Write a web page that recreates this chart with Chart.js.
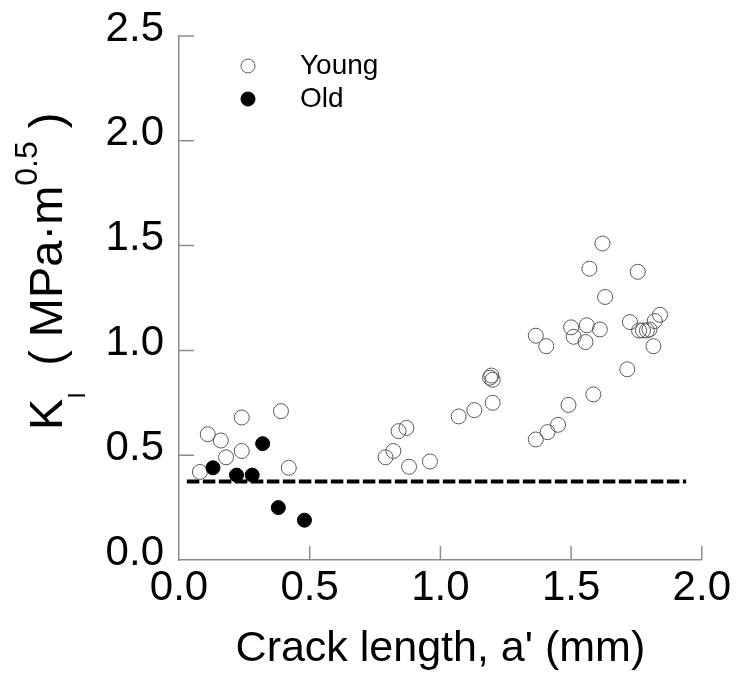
<!DOCTYPE html>
<html>
<head>
<meta charset="utf-8">
<script src="https://cdn.jsdelivr.net/npm/chart.js@4.4.0/dist/chart.umd.min.js"></script>
<style>
	html, body { margin: 0; padding: 0; background: #fff; }
</style>
</head>
<body>
<canvas id="graficoK" width="738" height="675"></canvas>
<script>
// valores
youngX = [0.08, 0.11, 0.16, 0.18, 0.24, 0.24, 0.39, 0.42,
	0.79, 0.82, 0.84, 0.87, 0.88, 0.96, 1.07, 1.13, 1.20, 1.19, 1.195, 1.20,
	1.365, 1.41, 1.45, 1.49, 1.585, 1.715,
	1.365, 1.405, 1.50, 1.51, 1.56, 1.555, 1.61, 1.57, 1.62, 1.63, 1.755,
	1.725, 1.76, 1.775, 1.79, 1.80, 1.82, 1.84, 1.815]
youngY = [0.42, 0.60, 0.57, 0.49, 0.52, 0.68, 0.71, 0.44,
	0.49, 0.52, 0.615, 0.63, 0.445, 0.47, 0.685, 0.715, 0.75, 0.87, 0.88, 0.86,
	0.575, 0.61, 0.645, 0.74, 0.79, 0.91,
	1.07, 1.02, 1.11, 1.065, 1.12, 1.04, 1.10, 1.39, 1.51, 1.255, 1.375,
	1.135, 1.095, 1.095, 1.095, 1.10, 1.14, 1.17, 1.02]
oldX = [0.13, 0.22, 0.28, 0.32, 0.38, 0.48]
oldY = [0.44, 0.405, 0.405, 0.555, 0.25, 0.19]
limiteX = [0.03, 1.94]
limiteY = [0.375, 0.375]

fonte = 'Arial, "Liberation Sans", sans-serif'
corEixo = '#8c8c8c'

function pontos(xs, ys) {
	return xs.map((x, i) => ({ x: x, y: ys[i] }))
}

// marcas dos eixos para dentro
const marcasInternas = {
	id: 'marcasInternas',
	afterDraw(chart) {
		const { ctx, scales } = chart
		const sx = scales.x, sy = scales.y
		ctx.save()
		ctx.strokeStyle = corEixo
		ctx.lineWidth = 1.5
		ctx.beginPath()
		sx.ticks.forEach((t, i) => {
			if (i == 0) return
			const px = sx.getPixelForTick(i)
			ctx.moveTo(px, sy.bottom)
			ctx.lineTo(px, sy.bottom - 14)
		})
		sy.ticks.forEach((t, i) => {
			if (i == 0) return
			const py = sy.getPixelForTick(i)
			ctx.moveTo(sx.left, py)
			ctx.lineTo(sx.left + 15, py)
		})
		ctx.stroke()
		ctx.restore()
	}
}

// titulo do eixo y com subscrito e sobrescrito
const tituloY = {
	id: 'tituloY',
	afterDraw(chart) {
		const ctx = chart.ctx
		ctx.save()
		ctx.translate(62, 430)
		ctx.rotate(-Math.PI / 2)
		ctx.fillStyle = '#000'
		ctx.textBaseline = 'alphabetic'
		ctx.textAlign = 'left'
		let pos = 0
		const parte = (txt, tam, dy) => {
			ctx.font = tam + 'px ' + fonte
			ctx.fillText(txt, pos, dy)
			pos += ctx.measureText(txt).width
		}
		parte('K', 47, 0)
		parte('I', 24, 23)
		parte('  ( MPa\u00b7m', 47, 0)
		parte('0.5', 32, -25)
		parte(' )', 47, 0)
		ctx.restore()
	}
}

// legenda desenhada a mao
const legendaManual = {
	id: 'legendaManual',
	afterDraw(chart) {
		const ctx = chart.ctx
		const itens = [chart.data.datasets[1], chart.data.datasets[0]]
		ctx.save()
		itens.forEach((ds, i) => {
			const y = 66 + i * 33
			ctx.beginPath()
			ctx.arc(248, y, 7, 0, 2 * Math.PI)
			ctx.fillStyle = ds.backgroundColor
			ctx.fill()
			ctx.lineWidth = ds.borderWidth
			ctx.strokeStyle = ds.borderColor
			ctx.stroke()
			ctx.fillStyle = '#000'
			ctx.font = '28px ' + fonte
			ctx.textBaseline = 'middle'
			ctx.fillText(ds.label, 300, y)
		})
		ctx.restore()
	}
}

function geraGrafico() {
	var config = {
		type: 'scatter',
		data: {
			datasets: [{
				label: 'Old',
				data: pontos(oldX, oldY),
				backgroundColor: '#000',
				borderColor: '#000',
				borderWidth: 1,
				pointRadius: 7,
			}, {
				label: 'Young',
				data: pontos(youngX, youngY),
				backgroundColor: 'rgba(255,255,255,0)',
				borderColor: '#5a5a5a',
				borderWidth: 1,
				pointRadius: 7.5,
			}, {
				label: 'limite',
				data: pontos(limiteX, limiteY),
				showLine: true,
				borderColor: '#000',
				borderWidth: 4,
				borderDash: [12.5, 3.5],
				pointRadius: 0,
			}]
		},
		options: {
			responsive: false,
			animation: false,
			layout: { padding: { left: 0, right: 35, top: 34, bottom: 0 } },
			plugins: {
				legend: { display: false },
				tooltip: { enabled: false },
			},
			scales: {
				x: {
					type: 'linear',
					min: 0,
					max: 2,
					grid: { display: false, drawTicks: false },
					border: { color: corEixo, width: 1.5 },
					ticks: {
						stepSize: 0.5,
						color: '#000',
						padding: 7,
						font: { family: fonte, size: 42, lineHeight: 1 },
						callback: (v) => v.toFixed(1),
					},
					title: {
						display: true,
						text: "Crack length, a' (mm)",
						color: '#000',
						font: { family: fonte, size: 43, lineHeight: 1 },
						padding: { top: 0, bottom: 4 },
					},
					afterFit: (s) => { s.height = 115 },
				},
				y: {
					min: 0,
					max: 2.5,
					grid: { display: false, drawTicks: false },
					border: { color: corEixo, width: 1.5 },
					ticks: {
						stepSize: 0.5,
						color: '#000',
						padding: 15,
						labelOffset: -7,
						font: { family: fonte, size: 42, lineHeight: 1 },
						callback: (v) => v.toFixed(1),
					},
					afterFit: (s) => { s.width = 179 },
				},
			},
		},
		plugins: [marcasInternas, tituloY, legendaManual],
	}
	var ctx = document.getElementById('graficoK').getContext('2d')
	window.graficoK = new Chart(ctx, config)
}

geraGrafico()
</script>
</body>
</html>
